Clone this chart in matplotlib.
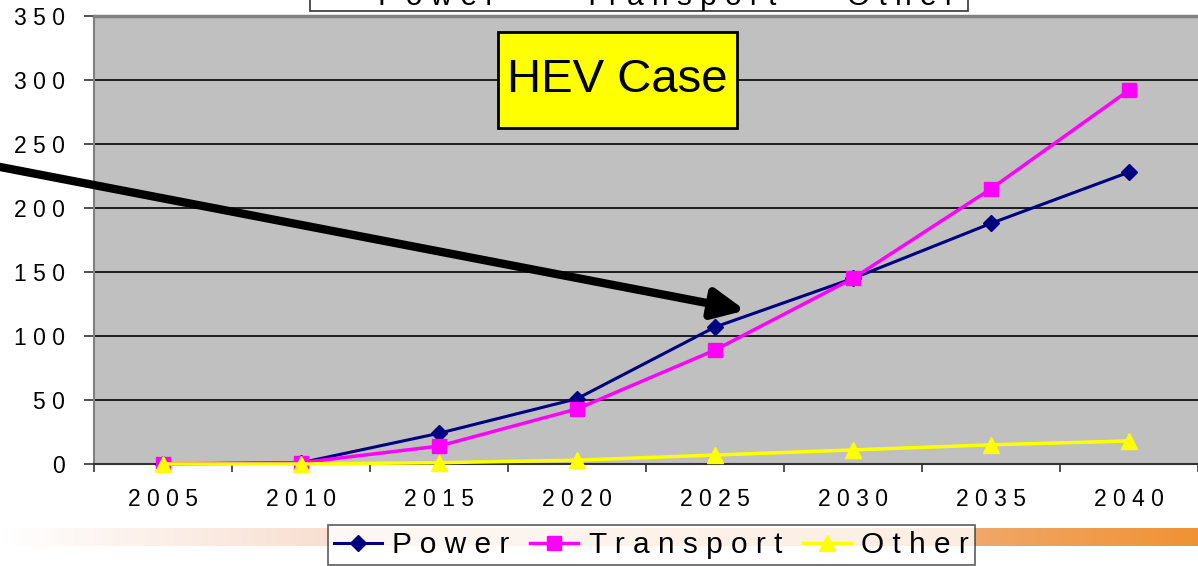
import numpy as np
import matplotlib
matplotlib.use("Agg")
import matplotlib.pyplot as plt
from matplotlib.patches import Rectangle
from matplotlib.colors import LinearSegmentedColormap
from matplotlib.ticker import FixedLocator, NullFormatter

plt.rcParams['font.family'] = ['Liberation Sans', 'DejaVu Sans']

years = ["2005", "2010", "2015", "2020", "2025", "2030", "2035", "2040"]
power = [0, 1, 24, 51, 107, 145, 188, 228]
transport = [0, 1, 14, 43, 89, 145, 215, 292]
other = [0, 0, 1, 3, 7, 11, 15, 18]
series_names = ["Power", "Transport", "Other"]
y_ticks = [0, 50, 100, 150, 200, 250, 300, 350]

def spaced(s):
    return " ".join(list(s))

W, H = 1198, 566
fig = plt.figure(figsize=(W / 100, H / 100), dpi=100)
fig.patch.set_facecolor("white")

# gradient bar at bottom
gax = fig.add_axes([0, 1 - 546 / H, 1, 18 / H], zorder=0)
cmap = LinearSegmentedColormap.from_list(
    "grad", [(0.0, (1, 1, 1)), (0.28, (248/255, 222/255, 208/255)),
             (0.81, (240/255, 168/255, 105/255)), (1.0, (240/255, 146/255, 52/255))])
gax.imshow(np.linspace(0, 1, 512)[None, :], aspect="auto", cmap=cmap, extent=[0, 1, 0, 1])
gax.set_axis_off()

ax = fig.add_axes([94 / W, 1 - 464 / H, 1 - 94 / W, 448 / H], zorder=2)
ax.set_facecolor("#C0C0C0")
x = np.arange(len(years))

ax.set_xlim(-0.5, len(years) - 0.5)
ax.set_ylim(0, 350)
ax.set_yticks(y_ticks)
ax.set_yticklabels([spaced(str(v)) for v in y_ticks], fontsize=16.5)
ax.yaxis.grid(True, color="black", linewidth=1.2)
ax.set_axisbelow(True)

ax.set_xticks(x)
ax.set_xticklabels([spaced(y) for y in years], fontsize=16.5)
ax.xaxis.set_minor_locator(FixedLocator(np.arange(-0.5, len(years), 1.0)))
ax.xaxis.set_minor_formatter(NullFormatter())
ax.tick_params(axis="x", which="major", length=0, pad=17)
ax.tick_params(axis="x", which="minor", length=6, width=1.2, color="#333333")
ax.tick_params(axis="y", length=7, width=1.2, pad=14, color="#333333")

for s in ["top", "left"]:
    ax.spines[s].set_color("#808080")
ax.spines["top"].set_linewidth(2.5)
ax.spines["left"].set_linewidth(1.5)
ax.spines["bottom"].set_color("#333333")
ax.spines["bottom"].set_linewidth(1.5)
ax.spines["right"].set_visible(False)

l1, = ax.plot(x, power, color="#000080", lw=2.2, marker="D", ms=8, mfc="#000080",
              mec="#000080", clip_on=False, zorder=3)
l2, = ax.plot(x, transport, color="#FF00FF", lw=2.5, marker="s", ms=10, mfc="#FF00FF",
              mec="#FF00FF", clip_on=False, zorder=4)
l3, = ax.plot(x, other, color="#FFFF00", lw=2.5, marker="^", ms=11, mfc="#FFFF00",
              mec="#FFFF00", clip_on=False, zorder=5)

# arrow
ax.annotate("", xy=(4.22, 120), xycoords="data",
            xytext=(-5 / W, 1 - 166 / H), textcoords="figure fraction",
            arrowprops=dict(arrowstyle="-|>,head_length=0.95,head_width=0.45",
                            lw=6, color="black", mutation_scale=20, shrinkA=0, shrinkB=0),
            annotation_clip=False, zorder=6)

# HEV Case box
fig.patches.append(Rectangle((498 / W, 1 - 128 / H), 239 / W, 96 / H,
                             transform=fig.transFigure, facecolor="#FFFF00",
                             edgecolor="black", linewidth=2, zorder=7))
fig.text(617.5 / W, 1 - 80 / H, "HEV Case", fontsize=34,
         ha="center", va="center", zorder=8)

labels = [spaced(n) for n in series_names]
handles = [l1, l2, l3]

leg = fig.legend(handles, labels, loc="upper left",
                 bbox_to_anchor=(328 / W, 1 - 525 / H), ncol=3, fontsize=21.5,
                 frameon=True, fancybox=False, edgecolor="#333333",
                 handlelength=1.6, handletextpad=0.35, columnspacing=0.7,
                 borderpad=0.2, borderaxespad=0)
leg.get_frame().set_linewidth(1.2)
leg.set_zorder(9)

# top (cut-off) copy of the legend
fig.patches.append(Rectangle((310 / W, 1 - 11 / H), 658 / W, 40 / H,
                             transform=fig.transFigure, facecolor="white",
                             edgecolor="#333333", linewidth=1.2, zorder=1))
top_x = [378, 583, 847]
for tx, lab in zip(top_x, labels):
    fig.text(tx / W, 1 - 5 / H, lab, fontsize=21.5, ha="left", va="baseline", zorder=2)

fig.savefig("out.png", dpi=100)
